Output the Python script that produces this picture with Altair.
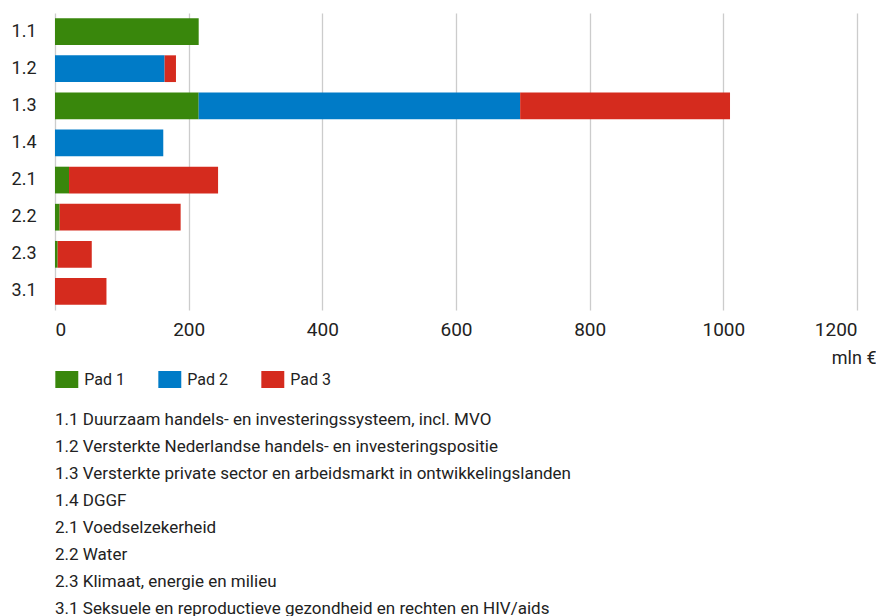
import altair as alt
import pandas as pd

categories = ["1.1", "1.2", "1.3", "1.4", "2.1", "2.2", "2.3", "3.1"]
pads = ["Pad 1", "Pad 2", "Pad 3"]
pad1 = [215, 0, 215, 0, 21, 7, 4, 0]
pad2 = [0, 164, 481, 162, 0, 0, 0, 0]
pad3 = [0, 17, 314, 0, 223, 181, 51, 77]
pad_colors = ["#39870c", "#007bc7", "#d52b1e"]
x_ticks = [0, 200, 400, 600, 800, 1000, 1200]
descriptions = [
    "1.1 Duurzaam handels- en investeringssysteem, incl. MVO",
    "1.2 Versterkte Nederlandse handels- en investeringspositie",
    "1.3 Versterkte private sector en arbeidsmarkt in ontwikkelingslanden",
    "1.4 DGGF",
    "2.1 Voedselzekerheid",
    "2.2 Water",
    "2.3 Klimaat, energie en milieu",
    "3.1 Seksuele en reproductieve gezondheid en rechten en HIV/aids",
]

rows = []
for i, c in enumerate(categories):
    for k, (p, vals) in enumerate(zip(pads, [pad1, pad2, pad3])):
        rows.append({"cat": c, "pad": p, "value": vals[i], "order": k})
df = pd.DataFrame(rows)

FONT = "Roboto"
TXT = "#222222"

chart = (
    alt.Chart(df)
    .mark_bar()
    .encode(
        x=alt.X(
            "value:Q",
            stack="zero",
            scale=alt.Scale(domain=[0, 1200], nice=False),
            axis=alt.Axis(
                values=x_ticks,
                format="d",
                title="mln €",
                titleX=821,
                titleY=48,
                titleAlign="right",
                titleBaseline="middle",
                titleFontSize=18,
                titleFontWeight="normal",
                titleColor=TXT,
                titleFont=FONT,
                labelFontSize=19,
                labelFont=FONT,
                labelColor=TXT,
                labelPadding=10,
                ticks=False,
                domain=False,
                grid=True,
                gridColor="#cccccc",
                gridWidth=1.3,
            ),
        ),
        y=alt.Y(
            "cat:N",
            sort=categories,
            scale=alt.Scale(paddingInner=0.28, paddingOuter=0.14),
            axis=alt.Axis(
                title=None,
                labelFontSize=18,
                labelFont=FONT,
                labelColor=TXT,
                labelPadding=19,
                ticks=False,
                domain=False,
                grid=False,
            ),
        ),
        color=alt.Color(
            "pad:N",
            sort=pads,
            scale=alt.Scale(domain=pads, range=pad_colors),
            legend=alt.Legend(
                title=None,
                orient="none",
                legendX=3.3,
                legendY=358,
                direction="horizontal",
                symbolType="M-1.35,-1L1.35,-1L1.35,1L-1.35,1Z",
                symbolSize=289,
                symbolStrokeWidth=0,
                symbolOpacity=1,
                labelFontSize=16,
                labelFont=FONT,
                labelColor=TXT,
                labelOffset=9,
                columnPadding=33,
                padding=0,
            ),
        ),
        order=alt.Order("order:Q"),
    )
    .properties(
        width=802,
        height=297,
        padding={"left": 47, "top": 5, "right": 19, "bottom": 306},
        autosize=alt.AutoSizeParams(type="none"),
        title=alt.TitleParams(
            text=descriptions,
            orient="bottom",
            anchor="start",
            frame="group",
            font=FONT,
            fontSize=17,
            fontWeight="normal",
            color=TXT,
            lineHeight=27,
            baseline="top",
            offset=24,
        ),
    )
    .configure_view(stroke=None)
)

chart.save("out.html", embed_options={"renderer": "svg", "actions": False})
